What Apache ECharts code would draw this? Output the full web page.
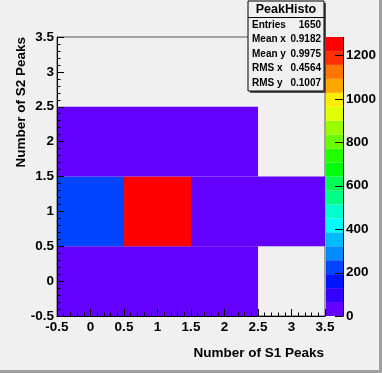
<!DOCTYPE html>
<html>
<head>
<meta charset="utf-8">
<script src="https://cdn.jsdelivr.net/npm/echarts@6/dist/echarts.min.js"></script>
<style>
  html, body { margin: 0; padding: 0; background: #f0f0f0; }
  #chart { width: 382px; height: 373px; }
</style>
</head>
<body>
<div id="chart"></div>
<script>
// bin centres and contents of PeakHisto (S1 peaks vs S2 peaks)
const binX = [0, 1, 2, 0, 1, 2, 3, 0, 1, 2]
const binY = [0, 0, 0, 1, 1, 1, 1, 2, 2, 2]
const binCount = [4, 3, 2, 240, 1285, 45, 6, 3, 4, 2]

// z axis (palette) range and labels
const zMax = 1285
const paletteTicks = [0, 200, 400, 600, 800, 1000, 1200]

// ROOT pretty palette, 20 contour levels, bottom to top
const paletteColors = [
    "#6300ff", "#3300ff", "#0014ff", "#0044ff", "#008bff",
    "#00bbff", "#00fffc", "#00ffcc", "#00ff85", "#00ff55",
    "#00ff0e", "#22ff00", "#69ff00", "#99ff00", "#e0ff00",
    "#ffee00", "#ffa700", "#ff7700", "#ff3000", "#ff0000",
]

// stats box
const statsTitle = "PeakHisto"
const statsLabels = ["Entries", "Mean x", "Mean y", "RMS x", "RMS y"]
const statsValues = ["1650", "0.9182", "0.9975", "0.4564", "0.1007"]

const axisTicks = [-0.5, 0, 0.5, 1, 1.5, 2, 2.5, 3, 3.5]

const FONT = "'Liberation Sans', Arial, Helvetica, sans-serif"
const step = zMax / paletteColors.length

const cells = binX.map((x, i) => [x, binY[i], binCount[i]])
const levels = paletteColors.map((c, k) => [k * step, (k + 1) * step, k])

const pieces = paletteColors.map((color, k) =>
    k === paletteColors.length - 1
        ? { gte: k * step, lte: zMax, color }
        : { gte: k * step, lt: (k + 1) * step, color }
)

const labelStyle = {
    color: "#000",
    fontFamily: FONT,
    fontWeight: "bold",
    fontSize: 13.5,
}

function mainAxis(extra) {
    return Object.assign({
        type: "value",
        min: -0.5,
        max: 3.5,
        interval: 0.5,
        z: 5,
        axisLine: { show: true, onZero: false, lineStyle: { color: "#000", width: 1 } },
        axisTick: { show: true, inside: true, length: 7, lineStyle: { color: "#000" } },
        minorTick: { show: true, splitNumber: 5, length: 3.5, lineStyle: { color: "#000" } },
        splitLine: { show: false },
    }, extra)
}

const chart = echarts.init(document.getElementById("chart"))

const statsGraphic = [
    // shadow
    { type: "rect", shape: { x: 250, y: 3, width: 76, height: 90 }, style: { fill: "#555" }, z: 10 },
    { type: "rect", shape: { x: 248, y: 1, width: 76, height: 90 }, style: { fill: "#f0f0f0", stroke: "#000", lineWidth: 1 }, z: 11 },
    { type: "line", shape: { x1: 248, y1: 17.5, x2: 324, y2: 17.5 }, style: { stroke: "#000", lineWidth: 1 }, z: 12 },
    {
        type: "text", x: 286, y: 10, z: 12,
        style: { text: statsTitle, font: `bold 12.5px ${FONT}`, fill: "#000", align: "center", verticalAlign: "middle" },
    },
]
statsLabels.forEach((label, i) => {
    const y = 25 + i * 14.5
    statsGraphic.push({
        type: "text", x: 252, y, z: 12,
        style: { text: label, font: `bold 10px ${FONT}`, fill: "#000", align: "left", verticalAlign: "middle" },
    })
    statsGraphic.push({
        type: "text", x: 321, y, z: 12,
        style: { text: statsValues[i], font: `bold 10px ${FONT}`, fill: "#000", align: "right", verticalAlign: "middle" },
    })
})

chart.setOption({
    animation: false,
    backgroundColor: "#f0f0f0",
    grid: [
        { left: 57, top: 37, width: 268, height: 279, show: true, borderColor: "#555", borderWidth: 1, backgroundColor: "transparent" },
        { left: 326, top: 37, width: 17, height: 279 },
    ],
    xAxis: [
        mainAxis({ gridIndex: 0, axisLabel: Object.assign({ margin: 4, customValues: axisTicks, formatter: v => String(v) }, labelStyle) }),
        { gridIndex: 1, type: "value", min: 0, max: 1, show: false },
    ],
    yAxis: [
        mainAxis({ gridIndex: 0, axisLabel: Object.assign({ margin: 3, customValues: axisTicks, formatter: v => String(v) }, labelStyle) }),
        {
            gridIndex: 1,
            type: "value",
            position: "right",
            min: 0,
            max: zMax,
            interval: 200,
            axisLine: { show: false },
            axisTick: { show: false },
            axisLabel: Object.assign({ margin: 3, customValues: paletteTicks, formatter: v => String(v) }, labelStyle),
            splitLine: { show: false },
        },
    ],
    visualMap: {
        type: "piecewise",
        show: false,
        dimension: 2,
        seriesIndex: 0,
        pieces,
    },
    series: [
        {
            type: "custom",
            xAxisIndex: 0,
            yAxisIndex: 0,
            data: cells,
            encode: { x: 0, y: 1 },
            z: 1,
            renderItem: (params, api) => {
                const x = api.value(0)
                const y = api.value(1)
                const p0 = api.coord([x - 0.5, y + 0.5])
                const p1 = api.coord([x + 0.5, y - 0.5])
                return {
                    type: "rect",
                    shape: { x: p0[0], y: p0[1], width: p1[0] - p0[0], height: p1[1] - p0[1] },
                    style: { fill: api.visual("color") },
                }
            },
        },
        {
            // palette bands with right-hand edge
            type: "custom",
            xAxisIndex: 1,
            yAxisIndex: 1,
            data: levels,
            encode: { y: [0, 1] },
            z: 1,
            renderItem: (params, api) => {
                const p0 = api.coord([0, api.value(0)])
                const p1 = api.coord([1, api.value(1)])
                return {
                    type: "group",
                    children: [
                        {
                            type: "rect",
                            shape: { x: p0[0], y: p1[1], width: p1[0] - p0[0], height: p0[1] - p1[1] },
                            style: { fill: paletteColors[api.value(2)] },
                        },
                        {
                            type: "line",
                            shape: { x1: p1[0] + 0.5, y1: p1[1], x2: p1[0] + 0.5, y2: p0[1] },
                            style: { stroke: "#000", lineWidth: 1 },
                        },
                    ],
                }
            },
        },
        {
            // palette ticks, pointing into the bar
            type: "custom",
            xAxisIndex: 1,
            yAxisIndex: 1,
            data: paletteTicks.map(v => [1, v]),
            encode: { x: 0, y: 1 },
            z: 3,
            renderItem: (params, api) => {
                const p = api.coord([api.value(0), api.value(1)])
                const y = Math.round(p[1]) + 0.5
                return {
                    type: "line",
                    shape: { x1: p[0] - 8, y1: y, x2: p[0] + 0.5, y2: y },
                    style: { stroke: "#000", lineWidth: 1 },
                }
            },
        },
    ],
    graphic: [
        ...statsGraphic,
        {
            type: "text", x: 324, y: 353,
            style: { text: "Number of S1 Peaks", font: `bold 13.5px ${FONT}`, fill: "#000", align: "right", verticalAlign: "middle" },
        },
        {
            type: "text", x: 21, y: 37, rotation: Math.PI / 2,
            style: { text: "Number of S2 Peaks", font: `bold 13.5px ${FONT}`, fill: "#000", align: "right", verticalAlign: "middle" },
        },
        // canvas bevel (right and bottom)
        { type: "rect", shape: { x: 379, y: 0, width: 3, height: 373 }, style: { fill: "#a0a0a0" } },
        { type: "rect", shape: { x: 0, y: 370, width: 382, height: 3 }, style: { fill: "#a0a0a0" } },
    ],
})
</script>
</body>
</html>
